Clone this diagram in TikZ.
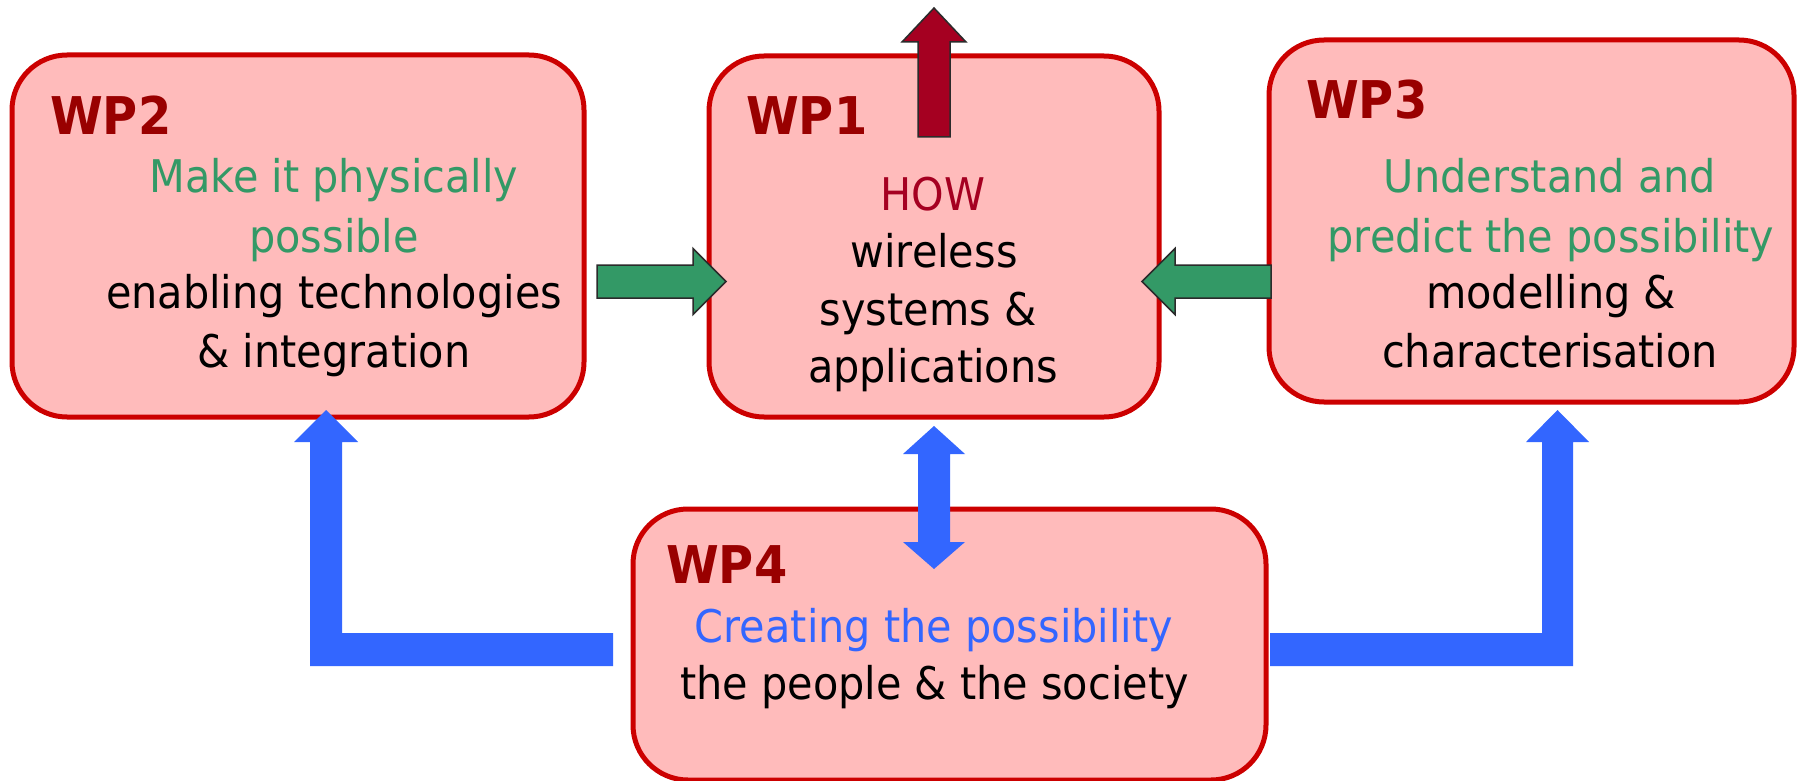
\documentclass[tikz,border=0pt]{standalone}
\usepackage{fontspec}
\setmainfont[FakeStretch=0.92]{DejaVu Sans}
\usetikzlibrary{calc}
\definecolor{boxfill}{HTML}{FFBBBB}
\definecolor{boxline}{HTML}{CC0000}
\definecolor{wpred}{HTML}{990000}
\definecolor{howred}{HTML}{A50021}
\definecolor{wpgreen}{HTML}{339966}
\definecolor{wpblue}{HTML}{3366FF}
\definecolor{edge}{HTML}{2B2B2B}
\tikzset{
  wpbox/.style={draw=boxline, fill=boxfill, line width=5pt, rounded corners=55pt, inner sep=0pt},
  wplabel/.style={anchor=base west, inner sep=0pt, text=wpred, font=\fontsize{52}{60}\selectfont\bfseries},
  body/.style={anchor=base, inner sep=0pt, font=\fontsize{45}{54}\selectfont},
  greenarrow/.style={fill=wpgreen, draw=edge, line width=1.5pt, line join=miter},
  redarrow/.style={fill=howred, draw=edge, line width=1.5pt, line join=miter},
  bluearrow/.style={fill=wpblue, draw=none}
}
\begin{document}
\begin{tikzpicture}[x=1pt, y=-1pt]
\useasboundingbox[fill=white] (0,0) rectangle (1802,781);

% work-package boxes
\node[wpbox, minimum width=572pt, minimum height=362pt] (wp2) at (298,236) {};
\node[wpbox, minimum width=450pt, minimum height=361pt] (wp1) at (934,236.5) {};
\node[wpbox, minimum width=525pt, minimum height=362pt] (wp3) at (1531.5,221) {};
\node[wpbox, minimum width=633pt, minimum height=271pt] (wp4) at (949.5,644.5) {};

% anchor points of the block arrows
\coordinate (outS) at (934,137);
\coordinate (leftS) at (597,281.5);
\coordinate (rightS) at (1271,281.5);
\coordinate (blS) at (613,633);
\coordinate (brS) at (1270,633);
\coordinate (midT) at (934,426);

% WP1 output arrow
\draw[redarrow] (outS) ++(-16,0) -- ++(0,-95) -- ++(-16,0) -- ++(32,-34)
  -- ++(32,34) -- ++(-16,0) -- ++(0,95) -- cycle;

% WP2 -> WP1
\draw[greenarrow] (leftS) ++(0,-16.5) -- ++(96,0) -- ++(0,-16.5) -- ++(33,33)
  -- ++(-33,33) -- ++(0,-16.5) -- ++(-96,0) -- cycle;

% WP3 -> WP1
\draw[greenarrow] (rightS) ++(0,-16.5) -- ++(-96,0) -- ++(0,-16.5) -- ++(-33,33)
  -- ++(33,33) -- ++(0,-16.5) -- ++(96,0) -- cycle;

% WP4 -> WP2
\fill[bluearrow] (blS) -- ++(-271,0) -- ++(0,-191) -- ++(16,0) -- ++(-32,-32)
  -- ++(-32,32) -- ++(16,0) -- ++(0,224) -- ++(303,0) -- cycle;

% WP4 -> WP3
\fill[bluearrow] (brS) -- ++(272,0) -- ++(0,-191) -- ++(-16,0) -- ++(31.5,-32)
  -- ++(31.5,32) -- ++(-16,0) -- ++(0,224) -- ++(-303,0) -- cycle;

% WP4 <-> WP1
\fill[bluearrow] (midT) -- ++(31,28) -- ++(-15,0) -- ++(0,88) -- ++(15,0)
  -- ++(-31,27) -- ++(-31,-27) -- ++(15,0) -- ++(0,-88) -- ++(-15,0) -- cycle;

% WP2 text
\node[wplabel] (t2a) at (50,135) {WP2};
\node[body, text=wpgreen] (t2b) at (334,193) {Make it physically};
\node[body, text=wpgreen] (t2c) at (334,252) {possible};
\node[body] (t2d) at (334,308) {enabling technologies};
\node[body] (t2e) at (334,367) {\& integration};

% WP1 text
\node[wplabel] (t1a) at (746,135) {WP1};
\node[body, text=howred] (t1b) at (933,210) {HOW};
\node[body] (t1c) at (934,267) {wireless};
\node[body] (t1d) at (928,325) {systems \&};
\node[body] (t1e) at (933,382) {applications};

% WP3 text
\node[wplabel] (t3a) at (1306,119) {WP3};
\node[body, text=wpgreen] (t3b) at (1550,193) {Understand and};
\node[body, text=wpgreen] (t3c) at (1551,252) {predict the possibility};
\node[body] (t3d) at (1551,308) {modelling \&};
\node[body] (t3e) at (1550,367) {characterisation};

% WP4 text
\node[wplabel] (t4a) at (666,583) {WP4};
\node[body, text=wpblue] (t4b) at (934,642) {Creating the possibility};
\node[body] (t4c) at (934.5,699) {the people \& the society};
\end{tikzpicture}
\end{document}
